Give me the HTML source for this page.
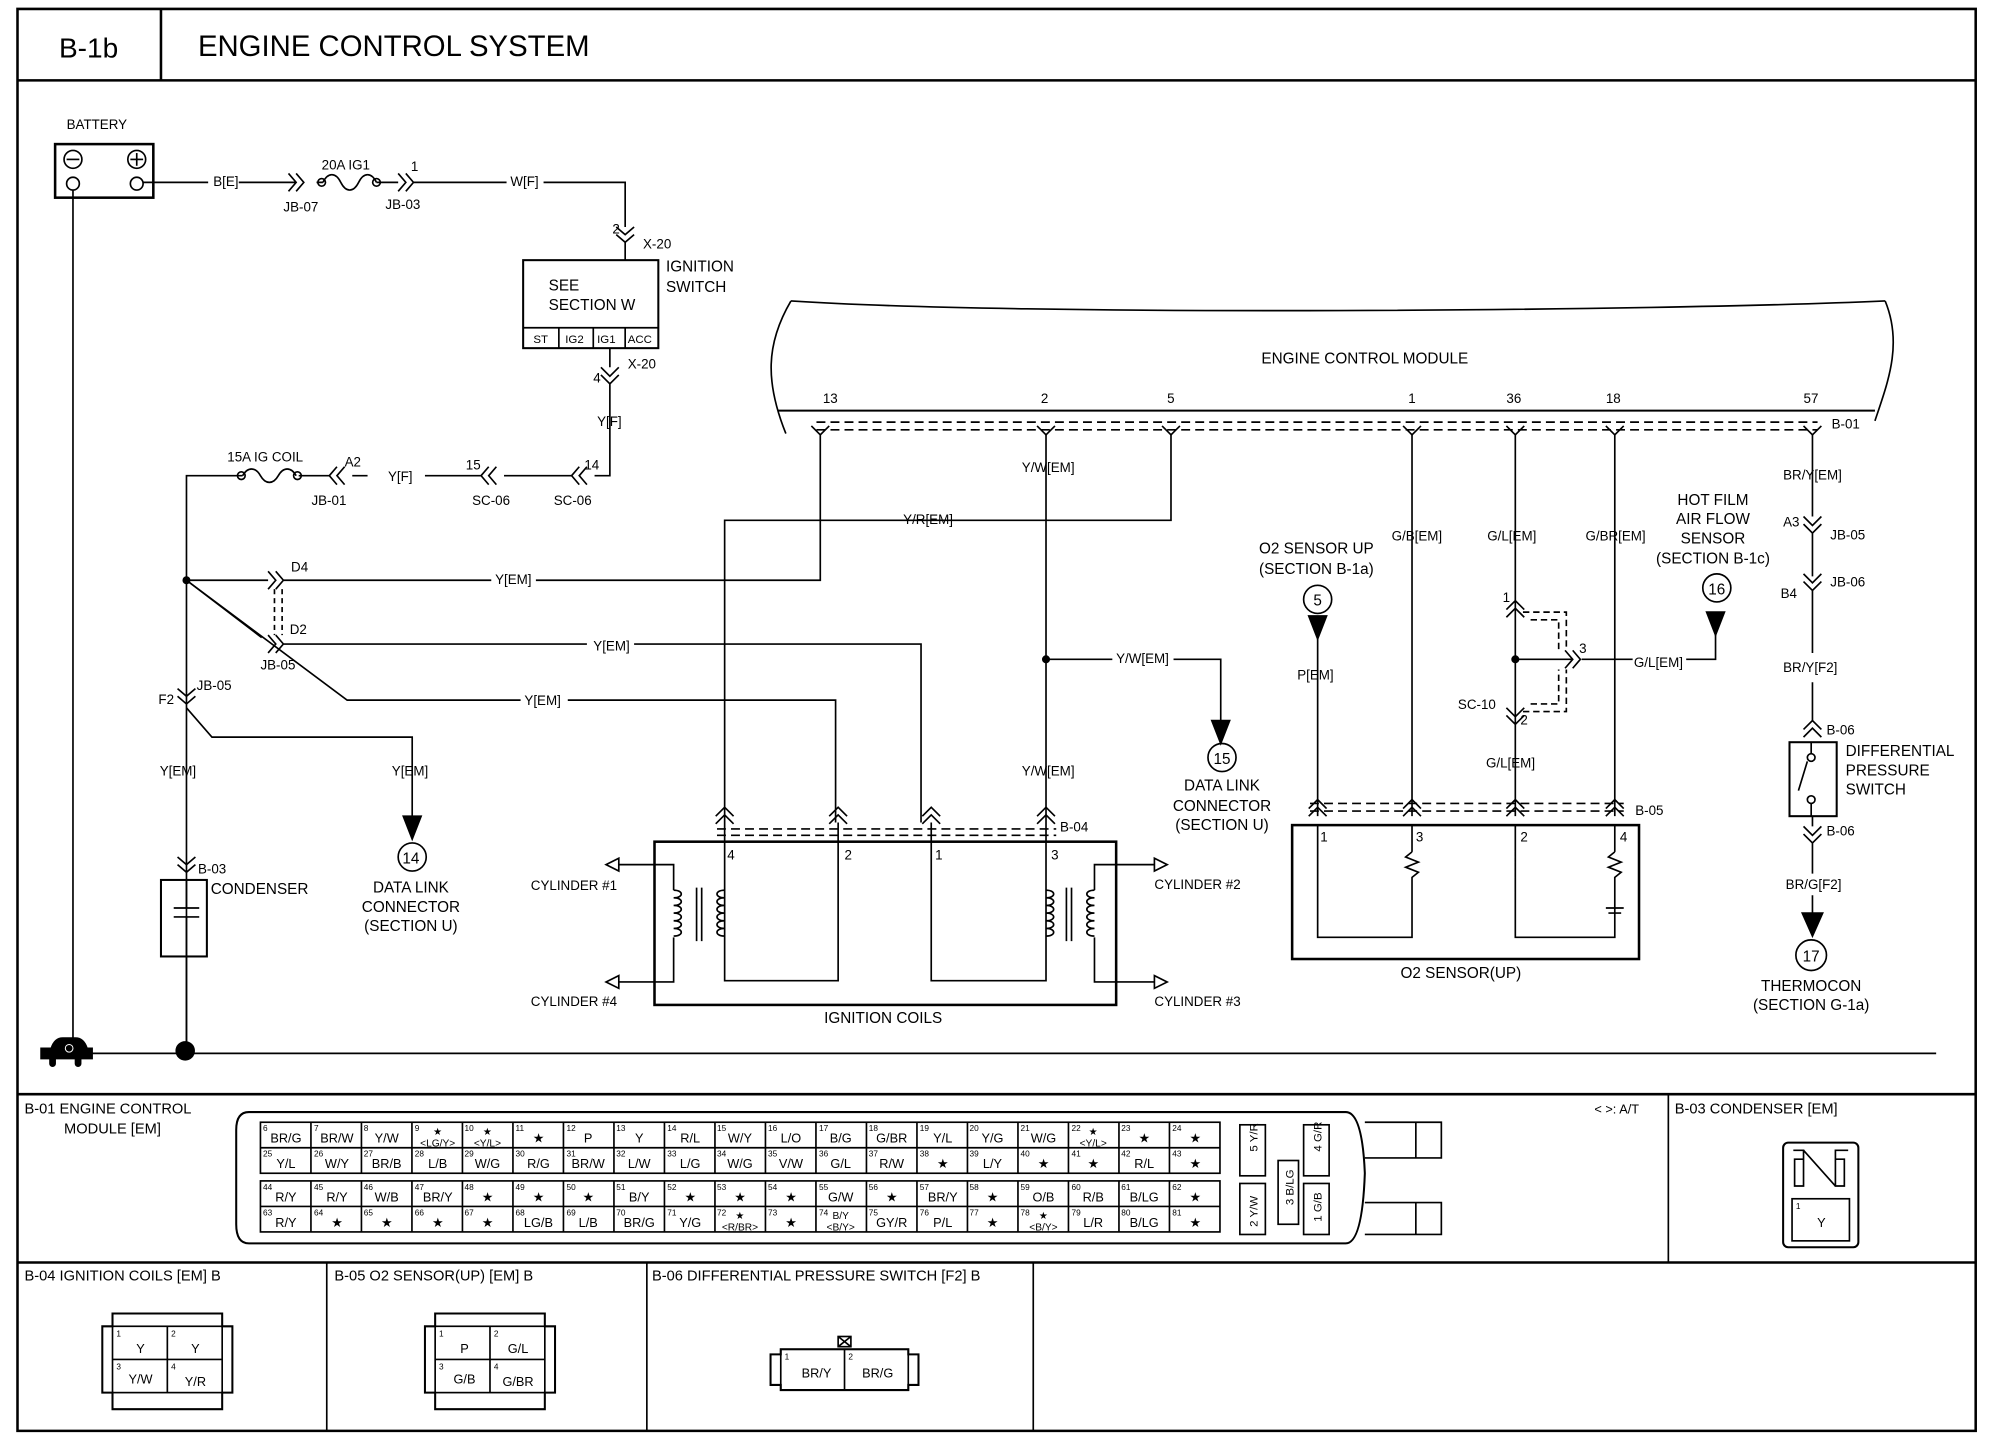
<!DOCTYPE html>
<html><head><meta charset="utf-8"><style>
html,body{margin:0;padding:0;background:#fff}
svg{display:block}
text{font-family:"Liberation Sans",sans-serif;fill:#000}
.s{font-size:10.5px}
.n{font-size:6.5px}
.c{font-size:10px;text-anchor:middle}
.m{text-anchor:middle}
</style></head><body>
<svg width="2000" height="1456" viewBox="0 0 1560 1136" xmlns="http://www.w3.org/2000/svg" fill="none" stroke="#000" stroke-width="1.3">
<g transform="scale(0.995)">
<!-- frame -->
<path d="M13.5 7H1549V1122H13.5Z" stroke-width="2"/>
<line x1="13.5" y1="63" x2="1549" y2="63" stroke-width="2"/>
<line x1="126" y1="7" x2="126" y2="63" stroke-width="2"/>
<text x="46" y="45" style="font-size:22px" stroke="none">B-1b</text>
<text x="155" y="44" style="font-size:23px" stroke="none">ENGINE CONTROL SYSTEM</text>
<line x1="13.5" y1="858" x2="1549" y2="858" stroke-width="2"/>
<line x1="13.5" y1="990" x2="1549" y2="990" stroke-width="2"/>
<line x1="1308" y1="858" x2="1308" y2="990"/>
<line x1="256" y1="990" x2="256" y2="1122"/>
<line x1="507" y1="990" x2="507" y2="1122"/>
<line x1="810" y1="990" x2="810" y2="1122"/>

<g stroke="none">
<text x="52" y="101" class="s">BATTERY</text>
<text x="167" y="146" class="s">B[E]</text>
<text x="252" y="133" class="s">20A IG1</text>
<text x="222" y="166" class="s">JB-07</text>
<text x="302" y="164" class="s">JB-03</text>
<text x="322" y="134" class="s">1</text>
<text x="400" y="146" class="s">W[F]</text>
<text x="480" y="183" class="s">2</text>
<text x="504" y="195" class="s">X-20</text>
<text x="522" y="213" style="font-size:12px">IGNITION</text>
<text x="522" y="229" style="font-size:12px">SWITCH</text>
<text x="430" y="228" style="font-size:12px">SEE</text>
<text x="430" y="243" style="font-size:12px">SECTION W</text>
<text x="418" y="269" style="font-size:9px">ST</text>
<text x="443" y="269" style="font-size:9px">IG2</text>
<text x="468" y="269" style="font-size:9px">IG1</text>
<text x="492" y="269" style="font-size:9px">ACC</text>
<text x="465" y="300" class="s">4</text>
<text x="492" y="289" class="s">X-20</text>
<text x="468" y="334" class="s">Y[F]</text>
<text x="178" y="362" class="s">15A IG COIL</text>
<text x="270" y="366" class="s">A2</text>
<text x="244" y="396" class="s">JB-01</text>
<text x="304" y="377" class="s">Y[F]</text>
<text x="365" y="368" class="s">15</text>
<text x="370" y="396" class="s">SC-06</text>
<text x="458" y="368" class="s">14</text>
<text x="434" y="396" class="s">SC-06</text>
<text x="228" y="448" class="s">D4</text>
<text x="388" y="458" class="s">Y[EM]</text>
<text x="227" y="497" class="s">D2</text>
<text x="204" y="525" class="s">JB-05</text>
<text x="465" y="510" class="s">Y[EM]</text>
<text x="411" y="553" class="s">Y[EM]</text>
<text x="124" y="552" class="s">F2</text>
<text x="154" y="541" class="s">JB-05</text>
<text x="125" y="608" class="s">Y[EM]</text>
<text x="307" y="608" class="s">Y[EM]</text>
<text x="155" y="685" class="s">B-03</text>
<text x="165" y="701" style="font-size:12px">CONDENSER</text>
<text x="322" y="677" class="m" style="font-size:12px">14</text>
<text x="322" y="700" class="m" style="font-size:12px">DATA LINK</text>
<text x="322" y="715" class="m" style="font-size:12px">CONNECTOR</text>
<text x="322" y="730" class="m" style="font-size:12px">(SECTION U)</text>
<text x="1070" y="285" class="m" style="font-size:12px">ENGINE CONTROL MODULE</text>
<text x="645" y="316" class="s">13</text>
<text x="816" y="316" class="s">2</text>
<text x="915" y="316" class="s">5</text>
<text x="1104" y="316" class="s">1</text>
<text x="1181" y="316" class="s">36</text>
<text x="1259" y="316" class="s">18</text>
<text x="1414" y="316" class="s">57</text>
<text x="1436" y="336" class="s">B-01</text>
<text x="801" y="370" class="s">Y/W[EM]</text>
<text x="708" y="411" class="s">Y/R[EM]</text>
<text x="875" y="520" class="s">Y/W[EM]</text>
<text x="801" y="608" class="s">Y/W[EM]</text>
<text x="831" y="652" class="s">B-04</text>
<text x="958" y="599" class="m" style="font-size:12px">15</text>
<text x="958" y="620" class="m" style="font-size:12px">DATA LINK</text>
<text x="958" y="636" class="m" style="font-size:12px">CONNECTOR</text>
<text x="958" y="651" class="m" style="font-size:12px">(SECTION U)</text>
<text x="1032" y="434" class="m" style="font-size:12px">O2 SENSOR UP</text>
<text x="1032" y="450" class="m" style="font-size:12px">(SECTION B-1a)</text>
<text x="1033" y="475" class="m" style="font-size:12px">5</text>
<text x="1017" y="533" class="s">P[EM]</text>
<text x="1091" y="424" class="s">G/B[EM]</text>
<text x="1166" y="424" class="s">G/L[EM]</text>
<text x="1243" y="424" class="s">G/BR[EM]</text>
<text x="1178" y="472" class="s">1</text>
<text x="1238" y="512" class="s">3</text>
<text x="1143" y="556" class="s">SC-10</text>
<text x="1192" y="568" class="s">2</text>
<text x="1281" y="523" class="s">G/L[EM]</text>
<text x="1165" y="602" class="s">G/L[EM]</text>
<text x="1282" y="639" class="s">B-05</text>
<text x="1343" y="396" class="m" style="font-size:12px">HOT FILM</text>
<text x="1343" y="411" class="m" style="font-size:12px">AIR FLOW</text>
<text x="1343" y="426" class="m" style="font-size:12px">SENSOR</text>
<text x="1343" y="442" class="m" style="font-size:12px">(SECTION B-1c)</text>
<text x="1346" y="466" class="m" style="font-size:12px">16</text>
<text x="1398" y="376" class="s">BR/Y[EM]</text>
<text x="1398" y="413" class="s">A3</text>
<text x="1435" y="423" class="s">JB-05</text>
<text x="1396" y="469" class="s">B4</text>
<text x="1435" y="460" class="s">JB-06</text>
<text x="1398" y="527" class="s">BR/Y[F2]</text>
<text x="1432" y="576" class="s">B-06</text>
<text x="1447" y="593" style="font-size:12px">DIFFERENTIAL</text>
<text x="1447" y="608" style="font-size:12px">PRESSURE</text>
<text x="1447" y="623" style="font-size:12px">SWITCH</text>
<text x="1432" y="655" class="s">B-06</text>
<text x="1400" y="697" class="s">BR/G[F2]</text>
<text x="1420" y="754" class="m" style="font-size:12px">17</text>
<text x="1420" y="777" class="m" style="font-size:12px">THERMOCON</text>
<text x="1420" y="792" class="m" style="font-size:12px">(SECTION G-1a)</text>
<text x="416" y="698" class="s">CYLINDER #1</text>
<text x="416" y="789" class="s">CYLINDER #4</text>
<text x="905" y="697" class="s">CYLINDER #2</text>
<text x="905" y="789" class="s">CYLINDER #3</text>
<text x="646" y="802" style="font-size:12px">IGNITION COILS</text>
<text x="570" y="674" class="s">4</text>
<text x="662" y="674" class="s">2</text>
<text x="733" y="674" class="s">1</text>
<text x="824" y="674" class="s">3</text>
<text x="1098" y="767" style="font-size:12px">O2 SENSOR(UP)</text>
<text x="1035" y="660" class="s">1</text>
<text x="1110" y="660" class="s">3</text>
<text x="1192" y="660" class="s">2</text>
<text x="1270" y="660" class="s">4</text>
</g>

<!-- battery -->
<rect x="43" y="113" width="77" height="42" stroke-width="2"/>
<circle cx="57" cy="125" r="7"/><line x1="52" y1="125" x2="62" y2="125"/>
<circle cx="107" cy="125" r="7"/><line x1="102" y1="125" x2="112" y2="125"/><line x1="107" y1="120" x2="107" y2="130"/>
<circle cx="57" cy="144" r="5"/><circle cx="107" cy="144" r="5"/>
<path d="M112 143H163 M187 143H232 M226 136l6 7-6 7 M232 136l6 7-6 7 M248 143h5 M253 143c4-8 10-8 14 0c4 8 10 8 14 0c4-8 10-8 14 0 M295 143H312 M312 136l6 7-6 7 M318 136l6 7-6 7 M324 143H397 M426 143H490V178 M483 178l7 6 7-6 M483 184l7 6 7-6 M490 190V204"/>
<circle cx="252" cy="143" r="3"/><circle cx="295" cy="143" r="3"/>
<!-- ignition switch -->
<rect x="410" y="204" width="106" height="69" stroke-width="1.6"/>
<path d="M410 257H516 M438 257V273 M465 257V273 M490 257V273"/>
<path d="M478 273V288 M471 288l7 7 7-7 M471 294l7 7 7-7 M478 301V322 M478 322V373H466 M460 366l-6 7 6 7 M454 366l-6 7 6 7 M448 373H395 M389 366l-6 7 6 7 M383 366l-6 7 6 7 M377 373H333 M288 373H276 M270 366l-6 7 6 7 M264 366l-6 7 6 7 M258 373H234 M232 373c-4-7-10-7-14 0s-10 7-14 0-10-7-14 0 M190 373H146V824"/>
<circle cx="233" cy="373" r="3"/><circle cx="189" cy="373" r="3"/>
<!-- ground -->
<path d="M57 149V826 M57 826H1518"/>
<circle cx="145" cy="824" r="7" fill="#000"/>
<path d="M32 830v-8h8c2-6 5-8 9-8h10c4 0 7 2 9 8h4v8z" fill="#000"/>
<rect x="39" y="828" width="4" height="8" rx="2" fill="#000"/><rect x="59" y="828" width="4" height="8" rx="2" fill="#000"/>
<circle cx="54" cy="822" r="3" stroke="#fff" stroke-width="0.8"/>
<!-- left wires -->
<circle cx="146" cy="455" r="2.5" fill="#000"/>
<path d="M146 455H210 M210 448l6 7-6 7 M216 448l6 7-6 7 M222 455H385 M420 455H643V340"/>
<path d="M146 455L205 500 M210 498l6 7-6 7 M216 498l6 7-6 7 M222 505H460 M497 505H722V645"/>
<path d="M146 455L272 549H408 M445 549H655V645"/>
<path d="M215 462V498" stroke-dasharray="4 3"/><path d="M221 462V498" stroke-dasharray="4 3"/>
<path d="M139 540l7 6 7-6 M139 546l7 6 7-6 M146 555L166 578H323V640"/>
<path d="M316 640h14l-7 18z" fill="#000"/>
<circle cx="323" cy="672" r="11"/>
<path d="M139 672l7 6 7-6 M139 678l7 6 7-6"/>
<rect x="126" y="690" width="36" height="60" stroke-width="1.6"/>
<path d="M146 690V712 M136 712H156 M136 719H156 M146 719V750 M146 750V824"/>
<!-- ECM -->
<path d="M620 236C600 270 600 300 616 340" />
<path d="M620 236C800 248 1300 244 1478 236" />
<path d="M1478 236C1492 270 1480 300 1470 330"/>
<path d="M610 322H1470" stroke-width="1.6"/>
<path d="M640 331H1425 M640 337H1425" stroke-dasharray="7 4"/>
<g>
<path d="M636 334l7 7 7-7 M813 334l7 7 7-7 M911 334l7 7 7-7 M1100 334l7 7 7-7 M1181 334l7 7 7-7 M1259 334l7 7 7-7 M1414 334l7 7 7-7"/>
<path d="M820 341V645 M918 341V408H568V645 M1107 341V640 M1188 341V640 M1266 341V640 M1421 341V405"/>
</g>
<circle cx="820" cy="517" r="2.5" fill="#000"/>
<path d="M820 517H872 M920 517H957V565"/><path d="M950 565h14l-7 18z" fill="#000"/>
<circle cx="958" cy="594" r="11"/>
<!-- ignition coils -->
<path d="M568 645V660 M657 645V660 M730 645V660 M820 645V660"/>
<path d="M561 640l7 -7 7 7 M561 646l7 -7 7 7 M650 640l7-7 7 7 M650 646l7-7 7 7 M723 640l7-7 7 7 M723 646l7-7 7 7 M813 640l7-7 7 7 M813 646l7-7 7 7"/>
<path d="M562 650H828 M562 655H828" stroke-dasharray="7 4"/>
<rect x="513" y="660" width="362" height="128" stroke-width="2"/>
<path d="M568 660V769H657V660 M730 660V769H820V660"/>
<path d="M485 678H528V698 M528 735V770H485 M475 678l10-5v10z M475 770l10-5v10z" />
<path d="M528 698c8 0 8 6 0 6c8 0 8 6 0 6c8 0 8 6 0 6c8 0 8 6 0 6c8 0 8 6 0 6c8 0 8 6 0 6"/>
<path d="M568 698c-8 0-8 6 0 6c-8 0-8 6 0 6c-8 0-8 6 0 6c-8 0-8 6 0 6c-8 0-8 6 0 6c-8 0-8 6 0 6"/>
<path d="M546 696V738 M550 696V738"/>
<path d="M905 678H858V698 M858 735V770H905 M915 678l-10-5v10z M915 770l-10-5v10z"/>
<path d="M858 698c-8 0-8 6 0 6c-8 0-8 6 0 6c-8 0-8 6 0 6c-8 0-8 6 0 6c-8 0-8 6 0 6c-8 0-8 6 0 6"/>
<path d="M820 698c8 0 8 6 0 6c8 0 8 6 0 6c8 0 8 6 0 6c8 0 8 6 0 6c8 0 8 6 0 6c8 0 8 6 0 6"/>
<path d="M836 696V738 M840 696V738"/>
<!-- O2 sensor -->
<circle cx="1033" cy="470" r="11"/>
<path d="M1026 483h14l-7 18z" fill="#000"/>
<path d="M1033 501V640"/>
<path d="M1026 634l7-7 7 7 M1026 640l7-7 7 7 M1100 634l7-7 7 7 M1100 640l7-7 7 7 M1181 634l7-7 7 7 M1181 640l7-7 7 7 M1259 634l7-7 7 7 M1259 640l7-7 7 7"/>
<path d="M1027 630H1273 M1027 636H1273" stroke-dasharray="7 4"/>
<circle cx="1188" cy="517" r="2.5" fill="#000"/>
<path d="M1188 517H1232 M1227 510l6 7-6 7 M1233 510l6 7-6 7 M1240 517H1280 M1322 517H1345V490"/>
<path d="M1338 480h14l-7 18z" fill="#000"/><circle cx="1346" cy="461" r="11"/>
<path d="M1181 478l7 -7 7 7 M1181 484l7-7 7 7 M1181 555l7 7 7-7 M1181 561l7 7 7-7"/>
<path d="M1194 480H1228V510 M1194 558H1228V525 M1200 486H1222V510 M1200 552H1222V525" stroke-dasharray="5 3"/>
<rect x="1013" y="647" width="272" height="105" stroke-width="2"/>
<path d="M1033 647V735H1107V700 M1107 647V668 M1107 668l-5 4 10 4-10 4 10 4-5 4V700 M1188 647V735H1266V712 M1266 647V668 M1266 668l-5 4 10 4-10 4 10 4-5 4V700 M1266 700V712 M1259 712H1273 M1261 716H1271"/>
<!-- right chain -->
<path d="M1414 405l7 7 7-7 M1414 411l7 7 7-7 M1421 418V452 M1414 450l7 7 7-7 M1414 456l7 7 7-7 M1421 463V512 M1421 535V565 M1414 572l7-7 7 7 M1414 578l7-7 7 7"/>
<rect x="1403" y="582" width="37" height="58" stroke-width="1.6"/>
<circle cx="1420" cy="594" r="3"/><circle cx="1420" cy="627" r="3"/><path d="M1417 597L1410 620 M1420 582V591 M1420 630V640"/>
<path d="M1421 640V648 M1414 648l7 7 7-7 M1414 654l7 7 7-7 M1421 661V685 M1421 702V716"/>
<path d="M1413 716h16l-8 18z" fill="#000"/><circle cx="1420" cy="749" r="12"/>

<!-- B-01 connector panel -->
<g stroke="none">
<text x="19" y="873" style="font-size:11.5px">B-01 ENGINE CONTROL</text>
<text x="50" y="889" style="font-size:11.5px">MODULE [EM]</text>
<text x="1250" y="873" style="font-size:10px">&lt;  &gt;: A/T</text>
<text x="1313" y="873" style="font-size:11.5px">B-03 CONDENSER [EM]</text>
<text x="19" y="1004" style="font-size:11.5px">B-04 IGNITION COILS [EM] B</text>
<text x="262" y="1004" style="font-size:11.5px">B-05 O2 SENSOR(UP) [EM] B</text>
<text x="511" y="1004" style="font-size:11.5px">B-06 DIFFERENTIAL PRESSURE SWITCH [F2] B</text>
</g>
<path d="M195 872H1055Q1068 872 1070 920Q1068 975 1055 975H195Q185 975 185 960V886Q185 872 195 872Z" stroke-width="1.6"/>
<path d="M1070 880H1130V908H1070 M1070 943H1130V968H1070 M1110 880V908 M1110 943V968"/>
<rect x="204" y="880" width="752.4" height="40"/><rect x="204" y="926" width="752.4" height="40"/>
<path d="M204 900H956.4 M204 946H956.4"/>
<path d="M243.6 880V920M283.2 880V920M322.8 880V920M362.4 880V920M402 880V920M441.6 880V920M481.2 880V920M520.8 880V920M560.4 880V920M600 880V920M639.6 880V920M679.2 880V920M718.8 880V920M758.4 880V920M798 880V920M837.6 880V920M877.2 880V920M916.8 880V920"/>
<path d="M243.6 926V966M283.2 926V966M322.8 926V966M362.4 926V966M402 926V966M441.6 926V966M481.2 926V966M520.8 926V966M560.4 926V966M600 926V966M639.6 926V966M679.2 926V966M718.8 926V966M758.4 926V966M798 926V966M837.6 926V966M877.2 926V966M916.8 926V966"/>
<rect x="972" y="882" width="20" height="40"/><rect x="1002" y="910" width="16" height="50"/><rect x="1022" y="882" width="20" height="40"/>
<rect x="972" y="928" width="20" height="40"/><rect x="1022" y="928" width="20" height="40"/>
<g stroke="none" style="font-size:9px">
<text transform="translate(986,903) rotate(-90)">5 Y/R</text>
<text transform="translate(1014,945) rotate(-90)">3 B/LG</text>
<text transform="translate(1036,903) rotate(-90)">4 G/R</text>
<text transform="translate(986,962) rotate(-90)">2 Y/W</text>
<text transform="translate(1036,958) rotate(-90)">1 G/B</text>
</g>
<g stroke="none">
<text class="n" x="206" y="887">6</text><text class="c" x="224" y="896">BR/G</text>
<text class="n" x="246" y="887">7</text><text class="c" x="264" y="896">BR/W</text>
<text class="n" x="285" y="887">8</text><text class="c" x="303" y="896">Y/W</text>
<text class="n" x="325" y="887">9</text><text class="c" x="343" y="890" style="font-size:8px">★</text><text class="c" x="343" y="899" style="font-size:8px">&lt;LG/Y&gt;</text>
<text class="n" x="364" y="887">10</text><text class="c" x="382" y="890" style="font-size:8px">★</text><text class="c" x="382" y="899" style="font-size:8px">&lt;Y/L&gt;</text>
<text class="n" x="404" y="887">11</text><text class="c" x="422" y="896">★</text>
<text class="n" x="444" y="887">12</text><text class="c" x="461" y="896">P</text>
<text class="n" x="483" y="887">13</text><text class="c" x="501" y="896">Y</text>
<text class="n" x="523" y="887">14</text><text class="c" x="541" y="896">R/L</text>
<text class="n" x="562" y="887">15</text><text class="c" x="580" y="896">W/Y</text>
<text class="n" x="602" y="887">16</text><text class="c" x="620" y="896">L/O</text>
<text class="n" x="642" y="887">17</text><text class="c" x="659" y="896">B/G</text>
<text class="n" x="681" y="887">18</text><text class="c" x="699" y="896">G/BR</text>
<text class="n" x="721" y="887">19</text><text class="c" x="739" y="896">Y/L</text>
<text class="n" x="760" y="887">20</text><text class="c" x="778" y="896">Y/G</text>
<text class="n" x="800" y="887">21</text><text class="c" x="818" y="896">W/G</text>
<text class="n" x="840" y="887">22</text><text class="c" x="857" y="890" style="font-size:8px">★</text><text class="c" x="857" y="899" style="font-size:8px">&lt;Y/L&gt;</text>
<text class="n" x="879" y="887">23</text><text class="c" x="897" y="896">★</text>
<text class="n" x="919" y="887">24</text><text class="c" x="937" y="896">★</text>

<text class="n" x="206" y="907">25</text><text class="c" x="224" y="916">Y/L</text>
<text class="n" x="246" y="907">26</text><text class="c" x="264" y="916">W/Y</text>
<text class="n" x="285" y="907">27</text><text class="c" x="303" y="916">BR/B</text>
<text class="n" x="325" y="907">28</text><text class="c" x="343" y="916">L/B</text>
<text class="n" x="364" y="907">29</text><text class="c" x="382" y="916">W/G</text>
<text class="n" x="404" y="907">30</text><text class="c" x="422" y="916">R/G</text>
<text class="n" x="444" y="907">31</text><text class="c" x="461" y="916">BR/W</text>
<text class="n" x="483" y="907">32</text><text class="c" x="501" y="916">L/W</text>
<text class="n" x="523" y="907">33</text><text class="c" x="541" y="916">L/G</text>
<text class="n" x="562" y="907">34</text><text class="c" x="580" y="916">W/G</text>
<text class="n" x="602" y="907">35</text><text class="c" x="620" y="916">V/W</text>
<text class="n" x="642" y="907">36</text><text class="c" x="659" y="916">G/L</text>
<text class="n" x="681" y="907">37</text><text class="c" x="699" y="916">R/W</text>
<text class="n" x="721" y="907">38</text><text class="c" x="739" y="916">★</text>
<text class="n" x="760" y="907">39</text><text class="c" x="778" y="916">L/Y</text>
<text class="n" x="800" y="907">40</text><text class="c" x="818" y="916">★</text>
<text class="n" x="840" y="907">41</text><text class="c" x="857" y="916">★</text>
<text class="n" x="879" y="907">42</text><text class="c" x="897" y="916">R/L</text>
<text class="n" x="919" y="907">43</text><text class="c" x="937" y="916">★</text>

<text class="n" x="206" y="933">44</text><text class="c" x="224" y="942">R/Y</text>
<text class="n" x="246" y="933">45</text><text class="c" x="264" y="942">R/Y</text>
<text class="n" x="285" y="933">46</text><text class="c" x="303" y="942">W/B</text>
<text class="n" x="325" y="933">47</text><text class="c" x="343" y="942">BR/Y</text>
<text class="n" x="364" y="933">48</text><text class="c" x="382" y="942">★</text>
<text class="n" x="404" y="933">49</text><text class="c" x="422" y="942">★</text>
<text class="n" x="444" y="933">50</text><text class="c" x="461" y="942">★</text>
<text class="n" x="483" y="933">51</text><text class="c" x="501" y="942">B/Y</text>
<text class="n" x="523" y="933">52</text><text class="c" x="541" y="942">★</text>
<text class="n" x="562" y="933">53</text><text class="c" x="580" y="942">★</text>
<text class="n" x="602" y="933">54</text><text class="c" x="620" y="942">★</text>
<text class="n" x="642" y="933">55</text><text class="c" x="659" y="942">G/W</text>
<text class="n" x="681" y="933">56</text><text class="c" x="699" y="942">★</text>
<text class="n" x="721" y="933">57</text><text class="c" x="739" y="942">BR/Y</text>
<text class="n" x="760" y="933">58</text><text class="c" x="778" y="942">★</text>
<text class="n" x="800" y="933">59</text><text class="c" x="818" y="942">O/B</text>
<text class="n" x="840" y="933">60</text><text class="c" x="857" y="942">R/B</text>
<text class="n" x="879" y="933">61</text><text class="c" x="897" y="942">B/LG</text>
<text class="n" x="919" y="933">62</text><text class="c" x="937" y="942">★</text>

<text class="n" x="206" y="953">63</text><text class="c" x="224" y="962">R/Y</text>
<text class="n" x="246" y="953">64</text><text class="c" x="264" y="962">★</text>
<text class="n" x="285" y="953">65</text><text class="c" x="303" y="962">★</text>
<text class="n" x="325" y="953">66</text><text class="c" x="343" y="962">★</text>
<text class="n" x="364" y="953">67</text><text class="c" x="382" y="962">★</text>
<text class="n" x="404" y="953">68</text><text class="c" x="422" y="962">LG/B</text>
<text class="n" x="444" y="953">69</text><text class="c" x="461" y="962">L/B</text>
<text class="n" x="483" y="953">70</text><text class="c" x="501" y="962">BR/G</text>
<text class="n" x="523" y="953">71</text><text class="c" x="541" y="962">Y/G</text>
<text class="n" x="562" y="953">72</text><text class="c" x="580" y="956" style="font-size:8px">★</text><text class="c" x="580" y="965" style="font-size:8px">&lt;R/BR&gt;</text>
<text class="n" x="602" y="953">73</text><text class="c" x="620" y="962">★</text>
<text class="n" x="642" y="953">74</text><text class="c" x="659" y="956" style="font-size:8px">B/Y</text><text class="c" x="659" y="965" style="font-size:8px">&lt;B/Y&gt;</text>
<text class="n" x="681" y="953">75</text><text class="c" x="699" y="962">GY/R</text>
<text class="n" x="721" y="953">76</text><text class="c" x="739" y="962">P/L</text>
<text class="n" x="760" y="953">77</text><text class="c" x="778" y="962">★</text>
<text class="n" x="800" y="953">78</text><text class="c" x="818" y="956" style="font-size:8px">★</text><text class="c" x="818" y="965" style="font-size:8px">&lt;B/Y&gt;</text>
<text class="n" x="840" y="953">79</text><text class="c" x="857" y="962">L/R</text>
<text class="n" x="879" y="953">80</text><text class="c" x="897" y="962">B/LG</text>
<text class="n" x="919" y="953">81</text><text class="c" x="937" y="962">★</text>
</g>

<!-- B-03 -->
<rect x="1398" y="896" width="59" height="82" rx="4" stroke-width="1.6"/>
<rect x="1405" y="940" width="45" height="33"/>
<path d="M1406 902H1414V909H1407V930H1414V902 M1449 902H1439V909H1446V930H1439V902 M1414 902L1439 930"/>
<g stroke="none"><text x="1408" y="948" class="n">1</text><text class="c" x="1428" y="962">Y</text></g>
<!-- B-04 -->
<path d="M88 1030H174V1040H182V1092H174V1105H88V1092H80V1040H88Z" stroke-width="1.6"/>
<rect x="88" y="1040" width="86" height="52"/><path d="M88 1066H174 M131 1040V1092"/>
<g stroke="none"><text class="n" x="91" y="1048">1</text><text class="c" x="110" y="1061">Y</text><text class="n" x="134" y="1048">2</text><text class="c" x="153" y="1061">Y</text><text class="n" x="91" y="1074">3</text><text class="c" x="110" y="1085">Y/W</text><text class="n" x="134" y="1074">4</text><text class="c" x="153" y="1087">Y/R</text></g>
<!-- B-05 -->
<path d="M341 1030H427V1040H435V1092H427V1105H341V1092H333V1040H341Z" stroke-width="1.6"/>
<rect x="341" y="1040" width="86" height="52"/><path d="M341 1066H427 M384 1040V1092"/>
<g stroke="none"><text class="n" x="344" y="1048">1</text><text class="c" x="364" y="1061">P</text><text class="n" x="387" y="1048">2</text><text class="c" x="406" y="1061">G/L</text><text class="n" x="344" y="1074">3</text><text class="c" x="364" y="1085">G/B</text><text class="n" x="387" y="1074">4</text><text class="c" x="406" y="1087">G/BR</text></g>
<!-- B-06 -->
<path d="M612 1058H712V1062H720V1086H712V1090H612V1086H604V1062H612Z" stroke-width="1.6"/>
<rect x="612" y="1058" width="100" height="32"/><path d="M662 1058V1090"/>
<rect x="657" y="1048" width="10" height="8"/><path d="M657 1048L667 1056M667 1048L657 1056"/>
<g stroke="none"><text class="n" x="615" y="1066">1</text><text class="c" x="640" y="1080">BR/Y</text><text class="n" x="665" y="1066">2</text><text class="c" x="688" y="1080">BR/G</text></g>
</g>
</svg>
</body></html>
